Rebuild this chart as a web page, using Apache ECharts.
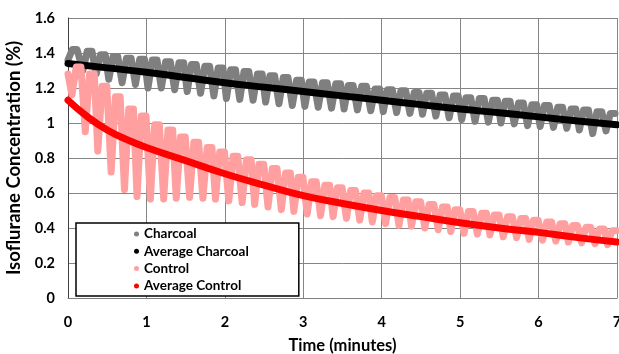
<!DOCTYPE html>
<html><head><meta charset="utf-8">
<script src="https://cdn.jsdelivr.net/npm/echarts@6/dist/echarts.min.js"></script>
<style>html,body{margin:0;padding:0;background:#fff}#c{width:619px;height:354px}</style>
</head><body><div id="c"></div>
<script>
// ---- data ----
const xTickLabels = [0, 1, 2, 3, 4, 5, 6, 7];
const yTickLabels = [0, 0.2, 0.4, 0.6, 0.8, 1, 1.2, 1.4, 1.6];

// Charcoal: time of each trough (min), trough value, following crest value (%)
const charcoalTroughTimes = [0.00, 0.19, 0.36, 0.52, 0.69, 0.86, 1.02, 1.19, 1.36, 1.52, 1.69, 1.86, 2.02, 2.19, 2.36, 2.52, 2.69, 2.86, 3.02, 3.19, 3.36, 3.52, 3.69, 3.86, 4.02, 4.19, 4.36, 4.52, 4.69, 4.86, 5.02, 5.19, 5.36, 5.52, 5.69, 5.86, 6.02, 6.19, 6.36, 6.52, 6.69, 6.86];
const charcoalTroughs = [1.36, 1.30, 1.28, 1.25, 1.23, 1.22, 1.20, 1.20, 1.19, 1.18, 1.17, 1.155, 1.14, 1.135, 1.13, 1.12, 1.11, 1.10, 1.095, 1.09, 1.085, 1.08, 1.075, 1.07, 1.065, 1.06, 1.055, 1.05, 1.04, 1.03, 1.02, 1.01, 1.005, 1.00, 0.995, 0.985, 0.98, 0.975, 0.97, 0.96, 0.94, 0.955];
const charcoalCrests = [1.42, 1.41, 1.39, 1.38, 1.37, 1.365, 1.36, 1.35, 1.345, 1.335, 1.325, 1.315, 1.305, 1.295, 1.28, 1.27, 1.26, 1.245, 1.235, 1.23, 1.225, 1.215, 1.21, 1.195, 1.19, 1.185, 1.175, 1.17, 1.16, 1.155, 1.145, 1.14, 1.13, 1.125, 1.115, 1.105, 1.10, 1.09, 1.08, 1.075, 1.065, 1.055];

// Control
const controlStart = [0, 1.28];
const controlTroughTimes = [0.05, 0.22, 0.38, 0.55, 0.72, 0.88, 1.05, 1.22, 1.38, 1.55, 1.72, 1.88, 2.05, 2.22, 2.38, 2.55, 2.72, 2.88, 3.05, 3.22, 3.38, 3.55, 3.72, 3.88, 4.05, 4.22, 4.38, 4.55, 4.72, 4.88, 5.05, 5.22, 5.38, 5.55, 5.72, 5.88, 6.05, 6.22, 6.38, 6.55, 6.72, 6.88];
const controlTroughs = [1.16, 0.95, 0.84, 0.72, 0.62, 0.58, 0.565, 0.565, 0.57, 0.575, 0.57, 0.565, 0.555, 0.545, 0.535, 0.52, 0.505, 0.495, 0.48, 0.47, 0.465, 0.455, 0.445, 0.435, 0.425, 0.415, 0.41, 0.40, 0.39, 0.38, 0.37, 0.365, 0.36, 0.35, 0.345, 0.335, 0.33, 0.325, 0.32, 0.315, 0.31, 0.305];
const controlCrests = [1.32, 1.28, 1.21, 1.15, 1.08, 1.04, 0.99, 0.96, 0.92, 0.89, 0.86, 0.835, 0.81, 0.79, 0.765, 0.74, 0.715, 0.69, 0.665, 0.645, 0.63, 0.615, 0.60, 0.585, 0.575, 0.56, 0.55, 0.535, 0.52, 0.505, 0.495, 0.485, 0.475, 0.465, 0.455, 0.445, 0.435, 0.425, 0.415, 0.405, 0.395, 0.385];

// Averages
const avgCharcoalTimes = [0, 0.5, 1, 1.5, 2, 2.5, 3, 3.5, 4, 4.5, 5, 5.5, 6, 6.5, 7];
const avgCharcoalValues = [1.34, 1.315, 1.29, 1.26, 1.23, 1.205, 1.18, 1.155, 1.13, 1.105, 1.08, 1.058, 1.035, 1.012, 0.99];
const avgControlTimes = [0, 0.25, 0.5, 0.75, 1, 1.5, 2, 2.5, 3, 3.5, 4, 4.5, 5, 5.5, 6, 6.5, 7];
const avgControlValues = [1.13, 1.035, 0.96, 0.905, 0.86, 0.785, 0.71, 0.645, 0.585, 0.54, 0.50, 0.465, 0.43, 0.40, 0.375, 0.345, 0.32];

// ---- build series data ----
const RISE = 0.055, HOLD = 0.115; // shape of each breath cycle (min)
function wave(times, troughs, crests, start) {
  const out = start ? [start] : [];
  for (let i = 0; i < times.length; i++) {
    out.push([times[i], troughs[i]]);
    out.push([times[i] + RISE, crests[i]]);
    out.push([Math.min(times[i] + HOLD, 7), crests[i]]);
  }
  return out;
}
const zip = (a, b) => a.map((v, i) => [v, b[i]]);

const FONT = 'Lato';
const chart = echarts.init(document.getElementById('c'), null, {renderer: 'canvas'});
const waveStyle = c => ({width: 7, color: c, cap: 'round', join: 'round'});
chart.setOption({
  animation: false,
  backgroundColor: '#fff',
  grid: {left: 68, right: 2, top: 18, bottom: 56, containLabel: false, outerBoundsMode: 'none'},
  xAxis: {
    type: 'value', min: xTickLabels[0], max: xTickLabels[xTickLabels.length - 1], interval: 1,
    name: 'Time (minutes)', nameLocation: 'middle', nameGap: 39,
    nameTextStyle: {fontFamily: FONT, fontWeight: 'bold', fontSize: 16.5, color: '#000'},
    axisLine: {show: true, lineStyle: {color: '#7f7f7f', width: 1}},
    axisTick: {show: false},
    axisLabel: {fontFamily: FONT, fontWeight: 'bold', fontSize: 14.5, color: '#000', margin: 17},
    splitLine: {show: true, lineStyle: {color: '#858585', width: 1}}
  },
  yAxis: {
    type: 'value', min: yTickLabels[0], max: yTickLabels[yTickLabels.length - 1], interval: 0.2,
    name: 'Isoflurane Concentration (%)', nameLocation: 'middle', nameGap: 41,
    nameTextStyle: {fontFamily: FONT, fontWeight: 'bold', fontSize: 18.5, color: '#000'},
    axisLine: {show: true, lineStyle: {color: '#404040', width: 1}},
    axisTick: {show: false},
    axisLabel: {fontFamily: FONT, fontWeight: 'bold', fontSize: 14.5, color: '#000', margin: 13,
      formatter: v => String(Math.round(v * 10) / 10)},
    splitLine: {show: true, lineStyle: {color: '#858585', width: 1}}
  },
  legend: {
    orient: 'vertical', left: 76, top: 223,
    padding: [4, 50, 3, 58], itemGap: 3.3, itemWidth: 5, itemHeight: 5,
    itemStyle: {borderWidth: 0},
    backgroundColor: '#fff', borderColor: '#000', borderWidth: 1.5, borderRadius: 0,
    textStyle: {fontFamily: FONT, fontWeight: 'bold', fontSize: 13.5, color: '#000'},
    data: [
      {name: 'Charcoal', icon: 'circle'},
      {name: 'Average Charcoal', icon: 'circle'},
      {name: 'Control', icon: 'circle'},
      {name: 'Average Control', icon: 'circle'}
    ]
  },
  series: [
    {name: 'Charcoal', type: 'line', data: wave(charcoalTroughTimes, charcoalTroughs, charcoalCrests),
      showSymbol: false, color: '#7f7f7f', lineStyle: waveStyle('#7f7f7f')},
    {name: 'Average Charcoal', type: 'line', data: zip(avgCharcoalTimes, avgCharcoalValues), smooth: true,
      showSymbol: false, clip: false, color: '#000', lineStyle: {width: 7, color: '#000', cap: 'round'}},
    {name: 'Control', type: 'line', data: wave(controlTroughTimes, controlTroughs, controlCrests, controlStart),
      showSymbol: false, color: '#ff9f9f', lineStyle: waveStyle('#ff9f9f')},
    {name: 'Average Control', type: 'line', data: zip(avgControlTimes, avgControlValues), smooth: true,
      showSymbol: false, clip: false, color: '#ff0000', lineStyle: {width: 7, color: '#ff0000', cap: 'round'}}
  ]
});
</script></body></html>
